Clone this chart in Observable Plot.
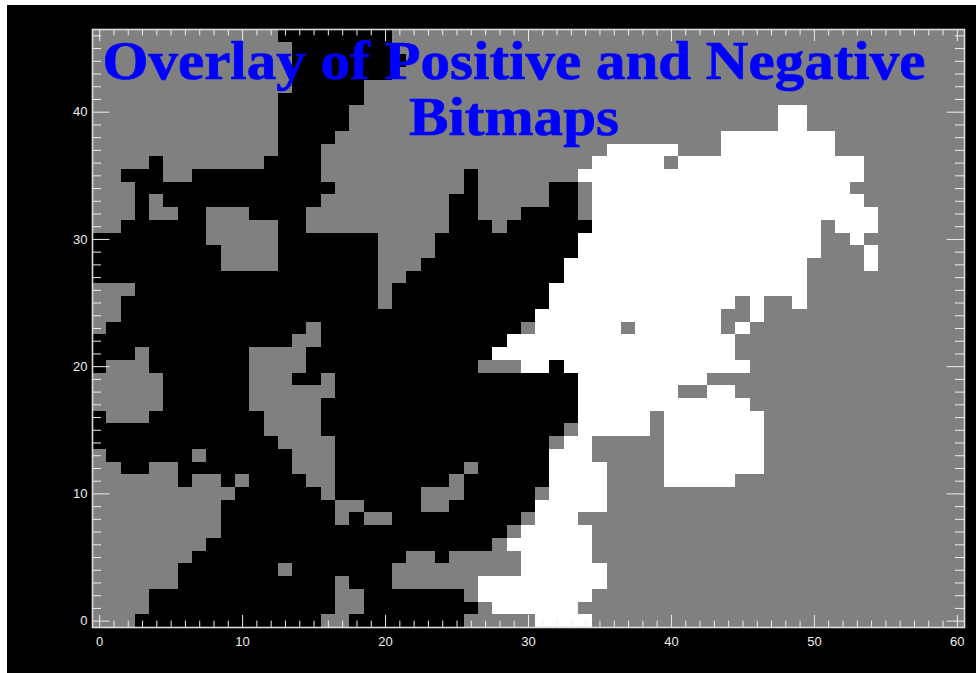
<!DOCTYPE html>
<html>
<head>
<meta charset="utf-8">
<script src="https://cdn.jsdelivr.net/npm/d3@7"></script>
<script src="https://cdn.jsdelivr.net/npm/@observablehq/plot@0.6"></script>
<style>
html,body{margin:0;padding:0;background:#fff;width:976px;height:673px;overflow:hidden;}
#chart{position:absolute;left:7px;top:5px;}
#title{position:absolute;left:0;top:0;width:1028px;text-align:center;margin:0;padding-top:34px;
  font:bold 54px/55.7px "Liberation Serif",serif;color:#0000ff;pointer-events:none;white-space:nowrap;
  -webkit-text-stroke:0.7px #0000ff;
  transform:scaleX(1.093);transform-origin:514px 0;}
</style>
</head>
<body>
<div id="chart"></div>
<h1 id="title">Overlay of Positive and Negative<br>Bitmaps</h1>
<script>
// Each row: runs of "<state><last column>"; k = neither, g = overlap background, w = positive bitmap. Row 0 first.
const rowRuns = [
"g2 k15 g17 k25 g30 w34 g60",
"g3 k16 g18 k26 g27 w33 g60",
"g3 k16 g18 k25 g26 w34 g60",
"g5 k16 g17 k20 g26 w35 g60",
"g5 k12 g13 k20 g29 w35 g60",
"g6 k21 g23 k24 g29 w34 g60",
"g7 k27 g28 w34 g60",
"g8 k28 g29 w34 g60",
"g8 k16 g17 k18 g20 k29 g30 w33 g60",
"g8 k16 g18 k22 g24 k30 w35 g60",
"g9 k15 g16 k22 g25 k30 g31 w35 g60",
"g5 k6 g8 k9 g10 k14 g16 k24 g25 k31 w35 g39 w44 g60",
"g1 k3 g5 k13 g16 k25 g26 k31 w35 g39 w46 g60",
"g0 k6 g7 k13 g16 k31 w34 g39 w46 g60",
"k12 g16 k31 g32 w34 g39 w46 g60",
"k11 g15 k32 g33 w38 g39 w46 g60",
"k0 g3 k11 g15 k33 w38 g39 w46 g60",
"g4 k10 g15 k33 w45 g60",
"g4 k10 g16 k33 w40 g42 w44 g60",
"g4 k10 g13 k15 g16 k33 w42 g60",
"k0 g3 k10 g14 k26 g29 w31 k32 w45 g60",
"k2 g3 k10 g14 k27 w44 g60",
"k13 g15 k28 w44 g60",
"g0 k14 g15 k29 g30 w36 g37 w43 g44 w45 g60",
"g1 k30 w43 g45 w46 g60",
"g1 k19 g20 k31 w44 g45 w46 g48 w49 g60",
"g2 k19 g20 k31 w49 g60",
"k19 g21 k32 w49 g60",
"k8 g12 k19 g22 k32 w49 g53 w54 g60",
"k8 g12 k19 g23 k33 w50 g53 w54 g60",
"k7 g12 k19 g23 k33 w50 g52 w53 g60",
"g1 k7 g12 k14 g24 k27 g28 k34 w50 g51 w54 g60",
"g2 k3 g5 k7 g10 k14 g24 k26 g29 k33 g34 w54 g60",
"g2 k3 g4 k15 g24 k26 g31 k33 g34 w53 g60",
"g2 k16 g25 k26 g31 k33 g34 w52 g60",
"g1 k4 g6 k15 g25 k26 g33 w53 g60",
"g3 k4 g11 k15 g34 w39 g40 w53 g60",
"g12 k15 g35 w40 g43 w51 g60",
"g12 k16 g43 w51 g60",
"g12 k17 g47 w49 g60",
"g12 k17 g47 w49 g60",
"g12 k18 g60",
"g13 k18 g60",
"g13 k20 g60",
"g13 k21 g60",
"g13 k20 g60",
"g12 k20 g60"
];
const xLabels = [0, 10, 20, 30, 40, 50, 60];
const yLabels = [0, 10, 20, 30, 40];
const xTicks = d3.range(0, 61);
const yTicks = d3.range(0, 47);
const stateNames = ["k", "g", "w"];
const stateColors = ["#000000", "#808080", "#ffffff"];

const spans = rowRuns.flatMap((row, r) => {
  let start = 0;
  return row.split(" ").map(run => {
    const state = run[0], end = +run.slice(1);
    const s = {state, row: r, from: start, to: end};
    start = end + 1;
    return s;
  });
});

const xMin = -0.5, xMax = 60.5, yMin = -0.5, yMax = 46.5;
const tickColor = "#ececec";
// tick lengths, in data units
const xMajor = 0.95, xMinor = 0.5, yMajor = 1.22, yMinor = 0.63;
const yLen = t => t % 10 === 0 ? yMajor : yMinor;
const xLen = t => t % 10 === 0 ? xMajor : xMinor;

const chart = Plot.plot({
  width: 969, height: 668,
  marginLeft: 85, marginRight: 12, marginTop: 24, marginBottom: 46,
  style: {background: "#000", color: "#eee", fontFamily: '"Liberation Sans",sans-serif', fontSize: "13px"},
  x: {domain: [xMin, xMax], label: null},
  y: {domain: [yMin, yMax], label: null},
  color: {type: "ordinal", domain: stateNames, range: stateColors},
  marks: [
    Plot.rect(spans, {x1: d => d.from - 0.5, x2: d => d.to + 0.5, y1: d => d.row - 0.5, y2: d => d.row + 0.5, fill: "state", shapeRendering: "crispEdges"}),
    Plot.ruleX(xTicks, {x: d => d, y1: yMin, y2: d => yMin + xLen(d), stroke: tickColor}),
    Plot.ruleX(xTicks, {x: d => d, y1: yMax, y2: d => yMax - xLen(d), stroke: tickColor}),
    Plot.ruleY(yTicks, {y: d => d, x1: xMin, x2: d => xMin + yLen(d), stroke: tickColor}),
    Plot.ruleY(yTicks, {y: d => d, x1: xMax, x2: d => xMax - yLen(d), stroke: tickColor}),
    Plot.frame({stroke: "#dcdcdc", strokeWidth: 1.6}),
    Plot.axisX(xLabels, {anchor: "bottom", tickSize: 0, tickPadding: 9, tickFormat: d => String(d), fill: "#eee"}),
    Plot.axisY(yLabels, {anchor: "left", tickSize: 0, tickPadding: 5, tickFormat: d => String(d), fill: "#eee"})
  ]
});
document.getElementById("chart").appendChild(chart);
</script>
</body>
</html>
